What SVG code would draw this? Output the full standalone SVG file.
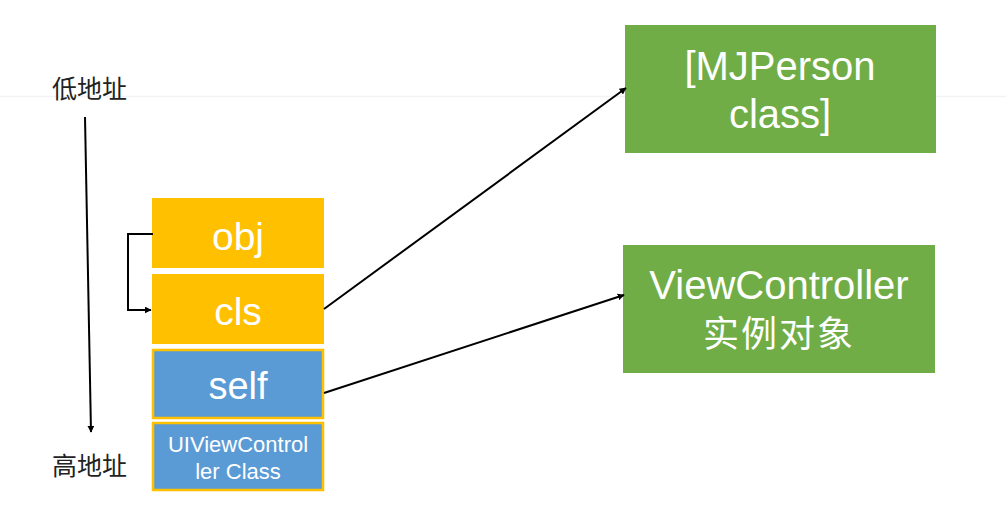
<svg xmlns="http://www.w3.org/2000/svg" width="1006" height="524" viewBox="0 0 1006 524">
<defs>
<marker id="ah" viewBox="0 0 10 10" refX="9" refY="5" markerWidth="7" markerHeight="7" markerUnits="userSpaceOnUse" orient="auto"><path d="M0,0 L10,5 L0,10 z" fill="#000"/></marker>
<style>
.y{fill:#FFC000}
.b{fill:#5B9BD5;stroke:#FFC000;stroke-width:2.5}
.g{fill:#70AD47}
.t{font-family:"Liberation Sans",Arial,sans-serif;fill:#fff;text-anchor:middle}
.c{font-family:"Noto Sans CJK SC",sans-serif}
.k{font-family:"Noto Sans CJK SC",sans-serif;font-size:25px;fill:#222}
.ln{stroke:#000;stroke-width:2;fill:none}
</style>
</defs>
<rect width="1006" height="524" fill="#fff"/>
<line x1="0" y1="96.5" x2="1006" y2="96.5" stroke="#f3f3f3" stroke-width="1.5"/>
<text class="k" x="52" y="98">低地址</text>
<text class="k" x="52" y="475">高地址</text>
<g id="obj"><rect class="y" x="152" y="198" width="172" height="70"/><text class="t" x="238" y="250" font-size="39">obj</text></g>
<g id="cls"><rect class="y" x="152" y="274" width="172" height="70"/><text class="t" x="238" y="325" font-size="39">cls</text></g>
<g id="self"><rect class="b" x="153" y="350" width="170" height="68"/><text class="t" x="238" y="399" font-size="38">self</text></g>
<g id="uivc"><rect class="b" x="153" y="423" width="170" height="67"/><text class="t" x="238" y="452" font-size="22">UIViewControl</text><text class="t" x="238" y="479" font-size="22">ler Class</text></g>
<g id="mjperson"><rect class="g" x="625" y="25" width="311" height="128"/><text class="t" x="780" y="80" font-size="40">[MJPerson</text><text class="t" x="780" y="128" font-size="40">class]</text></g>
<g id="vc"><rect class="g" x="623" y="245" width="312" height="128"/><text class="t" x="779" y="299" font-size="40">ViewController</text><text class="t c" x="779" y="347" font-size="36" letter-spacing="2">实例对象</text></g>
<g id="connectors">
<line class="ln" x1="85" y1="117" x2="91" y2="432" marker-end="url(#ah)"/>
<polyline class="ln" points="153,234 128,234 128,310 151,310" marker-end="url(#ah)"/>
<line class="ln" x1="324" y1="309" x2="626" y2="88" marker-end="url(#ah)"/>
<line class="ln" x1="324" y1="393" x2="624" y2="295" marker-end="url(#ah)"/>
</g>
</svg>
